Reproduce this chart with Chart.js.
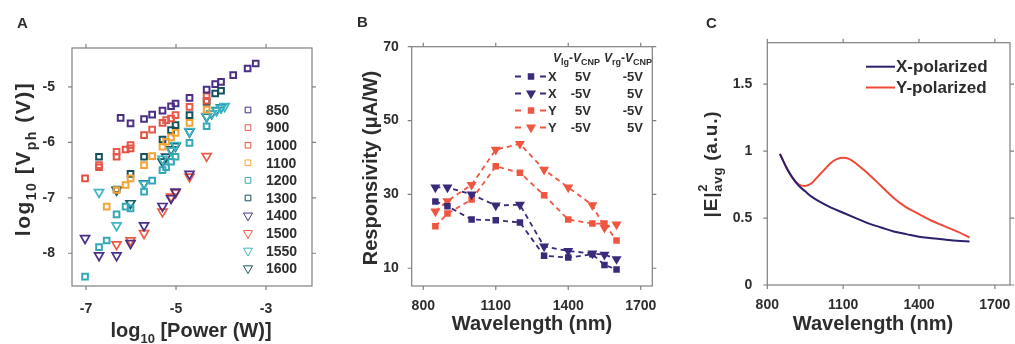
<!DOCTYPE html>
<html><head><meta charset="utf-8">
<script src="https://cdn.jsdelivr.net/npm/chart.js@4.4.1/dist/chart.umd.min.js"></script>
<style>
html,body{margin:0;padding:0;background:#fff;}
#wrap{position:relative;width:1015px;height:344px;overflow:hidden;}
canvas{position:absolute;top:0;}
</style></head>
<body><div id="wrap">
<canvas id="cA" width="340" height="344" style="left:0"></canvas>
<canvas id="cB" width="340" height="344" style="left:340px"></canvas>
<canvas id="cC" width="335" height="344" style="left:680px"></canvas>
</div>
<script>
// ---------- Panel A data: [log10 Power (W), log10 Vph (V)] ----------
const a850 = [[-6.23,-5.56],[-6.01,-5.66],[-5.71,-5.58],[-5.53,-5.50],[-5.30,-5.43],[-5.11,-5.35],[-5.01,-5.30],[-4.70,-5.20],[-4.32,-5.05],[-4.13,-4.95],[-4.00,-4.91],[-3.73,-4.79],[-3.41,-4.67],[-3.23,-4.58]];
const a900 = [[-6.71,-6.41],[-6.32,-6.17],[-6.01,-6.05],[-5.53,-5.77],[-5.22,-5.60],[-5.01,-5.51],[-4.70,-5.36],[-4.32,-5.17]];
const a1000 = [[-7.02,-6.65],[-6.71,-6.45],[-6.32,-6.26],[-6.12,-6.13],[-6.01,-6.11],[-5.71,-5.87],[-5.30,-5.65],[-5.11,-5.57],[-4.32,-5.25]];
const a1100 = [[-6.54,-7.16],[-6.32,-6.86],[-6.12,-6.77],[-6.01,-6.65],[-5.71,-6.41],[-5.53,-6.25],[-5.30,-6.08],[-5.22,-5.99],[-5.11,-5.91],[-5.01,-5.83],[-4.70,-5.65],[-4.32,-5.41]];
const a1200 = [[-7.02,-8.42],[-6.71,-7.89],[-6.54,-7.77],[-6.32,-7.30],[-6.12,-7.16],[-6.01,-7.19],[-5.71,-6.89],[-5.53,-6.69],[-5.30,-6.50],[-5.22,-6.45],[-5.11,-6.35],[-5.01,-6.26],[-4.70,-6.01],[-4.32,-5.71]];
const a1300 = [[-6.71,-6.26],[-6.32,-6.85],[-6.01,-6.57],[-5.71,-6.26],[-5.30,-5.95],[-5.11,-5.78],[-5.01,-5.69],[-4.70,-5.51],[-4.32,-5.27],[-4.13,-5.12],[-4.00,-5.07]];
const a1400 = [[-7.02,-7.73],[-6.71,-8.04],[-6.32,-8.04],[-6.01,-7.82],[-5.71,-7.50],[-5.30,-7.15],[-5.11,-7.01],[-5.01,-6.89],[-4.70,-6.57]];
const a1500 = [[-6.32,-7.84],[-6.01,-7.77],[-5.71,-7.64],[-5.30,-7.25],[-5.11,-6.98],[-5.01,-6.91],[-4.70,-6.62],[-4.32,-6.25]];
const a1550 = [[-6.71,-6.90],[-6.32,-7.50],[-5.71,-6.75],[-5.30,-6.30],[-5.11,-6.15],[-5.01,-6.05],[-4.70,-5.80],[-4.32,-5.53],[-4.20,-5.48],[-4.10,-5.43],[-4.00,-5.38],[-3.92,-5.35]];
const a1600 = [[-6.32,-6.86],[-6.01,-7.10],[-5.71,-6.74],[-5.30,-6.35],[-5.22,-6.26],[-5.11,-6.13],[-5.01,-6.07],[-4.70,-5.81],[-4.32,-5.54],[-4.21,-5.48],[-4.10,-5.42],[-4.00,-5.37]];
const aLabels = ['850','900','1000','1100','1200','1300','1400','1500','1550','1600'];
const aXTicks = [-7,-5,-3];
const aYTicks = [-8,-7,-6,-5];

// ---------- Panel B data ----------
const bWavelength = [850,900,1000,1100,1200,1300,1400,1500,1550,1600];
const bX_p5 = [28.1,26.8,23.2,23.0,22.4,13.4,12.9,13.8,10.9,9.7];
const bX_m5 = [31.9,31.9,30.0,27.0,27.2,15.9,14.7,14.0,13.7,12.5];
const bY_p5 = [21.4,24.8,28.6,37.6,35.9,29.8,23.2,22.1,22.1,17.5];
const bY_m5 = [25.4,28.2,32.6,42.1,43.7,36.7,31.9,27.1,21.0,21.9];
const bXTicks = [800,1100,1400,1700];
const bYTicks = [10,30,50,70];

// ---------- Panel C data ----------
const cWavelengthY = [850,875,900,925,950,975,1000,1025,1050,1075,1100,1125,1150,1175,1200,1250,1300,1350,1400,1450,1500,1550,1600];
const cYpol = [0.98,0.88,0.80,0.75,0.74,0.76,0.81,0.86,0.91,0.94,0.95,0.94,0.91,0.87,0.83,0.74,0.65,0.58,0.53,0.48,0.44,0.40,0.355];
const cWavelengthX = [850,875,900,925,950,975,1000,1050,1100,1150,1200,1250,1300,1350,1400,1450,1500,1550,1600];
const cXpol = [0.98,0.88,0.80,0.74,0.70,0.66,0.63,0.58,0.54,0.50,0.46,0.43,0.40,0.38,0.36,0.35,0.34,0.33,0.325];
const cXTicks = [800,1100,1400,1700];
const cYTicks = [0,0.5,1,1.5];

// ---------- styling ----------
const FAM = '"Liberation Sans", Arial, Helvetica, sans-serif';
const TXT = '#2d2d2d';
const FRAME = '#808080';
Chart.defaults.font.family = FAM;
Chart.defaults.font.weight = 'bold';
Chart.defaults.color = TXT;

function drawRich(ctx, parts, x, y, rot, align, spacing) {
  ctx.save();
  ctx.translate(x, y);
  ctx.rotate(rot || 0);
  ctx.textBaseline = 'alphabetic';
  ctx.textAlign = 'left';
  ctx.fillStyle = TXT;
  if (spacing) ctx.letterSpacing = spacing + 'px';
  const fontOf = p => (p.i ? 'italic ' : '') + 'bold ' + p.s + 'px ' + FAM;
  const widths = parts.map(p => {
    if (p.stack) {
      return Math.max(...p.stack.map(q => { ctx.font = fontOf(q); return ctx.measureText(q.t).width; }));
    }
    ctx.font = fontOf(p); return ctx.measureText(p.t).width;
  });
  const total = widths.reduce((a, b) => a + b, 0);
  let cx = align === 'left' ? 0 : (align === 'right' ? -total : -total / 2);
  parts.forEach((p, i) => {
    if (p.stack) {
      p.stack.forEach(q => { ctx.font = fontOf(q); ctx.fillText(q.t, cx + (q.dx || 0), q.dy || 0); });
    } else {
      ctx.font = fontOf(p); ctx.fillText(p.t, cx, p.dy || 0);
    }
    cx += widths[i];
  });
  ctx.restore();
}

function framePlugin(tl) {
  return {
    id: 'frame',
    afterDraw(chart) {
      const ctx = chart.ctx, a = chart.chartArea;
      const sx = chart.scales.x, sy = chart.scales.y;
      ctx.save();
      ctx.strokeStyle = FRAME;
      ctx.lineWidth = 1.2;
      ctx.strokeRect(a.left, a.top, a.right - a.left, a.bottom - a.top);
      ctx.beginPath();
      sx.ticks.forEach(t => {
        const px = sx.getPixelForValue(t.value);
        ctx.moveTo(px, a.bottom); ctx.lineTo(px, a.bottom + tl);
        ctx.moveTo(px, a.top); ctx.lineTo(px, a.top - tl);
      });
      sy.ticks.forEach(t => {
        const py = sy.getPixelForValue(t.value);
        ctx.moveTo(a.left, py); ctx.lineTo(a.left - tl, py);
        ctx.moveTo(a.right, py); ctx.lineTo(a.right + tl, py);
      });
      ctx.stroke();
      ctx.restore();
    }
  };
}

function axes(xr, yr, xt, yt, pads, sizes) {
  return {
    x: {
      type: 'linear', min: xr[0], max: xr[1],
      grid: { display: false }, border: { display: false },
      afterBuildTicks: s => { s.ticks = xt.map(v => ({ value: v })); },
      ticks: { font: { size: 14, weight: 'bold' }, color: TXT, padding: pads[0], maxRotation: 0, autoSkip: false,
               callback: v => String(v) },
      afterFit: s => { s.height = sizes[0]; s.paddingLeft = 0; s.paddingRight = 0; }
    },
    y: {
      type: 'linear', min: yr[0], max: yr[1],
      grid: { display: false }, border: { display: false },
      afterBuildTicks: s => { s.ticks = yt.map(v => ({ value: v })); },
      ticks: { font: { size: 14, weight: 'bold' }, color: TXT, padding: pads[1], autoSkip: false,
               callback: v => String(v) },
      afterFit: s => { s.width = sizes[1]; s.paddingTop = 0; s.paddingBottom = 0; }
    }
  };
}

// ---------- Panel A ----------
const aSeries = [a850, a900, a1000, a1100, a1200, a1300, a1400, a1500, a1550, a1600];
const aColors = ['#4a2f85', '#e8584d', '#e4503f', '#f7a235', '#33a9b8', '#13525c', '#4a2f85', '#ef5a45', '#3cb6c6', '#1c5a63'];
const aStyles = ['rect', 'rect', 'rect', 'rect', 'rect', 'rect', 'triangle', 'triangle', 'triangle', 'triangle'];

const aDatasets = aSeries.map((pts, i) => ({
  label: aLabels[i],
  data: pts.map(p => ({ x: p[0], y: p[1] })),
  pointStyle: aStyles[i],
  rotation: aStyles[i] === 'triangle' ? 180 : 0,
  radius: aStyles[i] === 'triangle' ? 5.2 : 4,
  borderWidth: aStyles[i] === 'triangle' ? 1.7 : 2,
  borderColor: aColors[i],
  backgroundColor: 'rgba(255,255,255,0)',
  showLine: false
}));

const aExtra = {
  id: 'aExtra',
  afterDraw(chart) {
    const ctx = chart.ctx;
    aLabels.forEach((lab, i) => {
      const y = 110 + i * 17.6;
      ctx.save();
      ctx.strokeStyle = aColors[i];
      ctx.fillStyle = 'rgba(255,255,255,0)';
      Chart.helpers.drawPoint(ctx, { pointStyle: aStyles[i], radius: aStyles[i] === 'triangle' ? 5.2 : 4,
        rotation: aStyles[i] === 'triangle' ? 180 : 0, borderWidth: aStyles[i] === 'triangle' ? 1.7 : 2 }, 248, y);
      ctx.restore();
      ctx.save();
      ctx.fillStyle = TXT; ctx.font = 'bold 14px ' + FAM; ctx.textBaseline = 'middle'; ctx.textAlign = 'left';
      ctx.fillText(lab, 266, y + 1);
      ctx.restore();
    });
    drawRich(ctx, [{ t: 'A', s: 15 }], 17, 28, 0, 'left');
    drawRich(ctx, [{ t: 'log', s: 20 }, { t: '10', s: 13, dy: 6 }, { t: ' [Power (W)]', s: 20 }], 191, 337, 0, 'center');
    drawRich(ctx, [{ t: 'log', s: 21 }, { t: '10', s: 14, dy: 6 }, { t: ' [', s: 21 }, { t: 'V', s: 21 }, { t: 'ph', s: 14, dy: 6 }, { t: ' (V)]', s: 21 }], 30, 159, -Math.PI / 2, 'center', 1.5);
  }
};

new Chart(document.getElementById('cA'), {
  type: 'scatter',
  data: { datasets: aDatasets },
  options: {
    responsive: false, animation: false,
    layout: { padding: { left: 0, top: 48, right: 28, bottom: 0 } },
    plugins: { legend: { display: false }, tooltip: { enabled: false } },
    scales: axes([-7.31, -1.98], [-8.59, -4.30], aXTicks, aYTicks, [7, 9], [58, 72])
  },
  plugins: [framePlugin(4), aExtra]
});

// ---------- Panel B ----------
const PURPLE = '#3b2a7a', RED = '#f0553f';
const bSeries = [
  { v: bX_p5, c: PURPLE, st: 'rect', lab: 'X', c2: '5V', c3: '-5V' },
  { v: bX_m5, c: PURPLE, st: 'triangle', lab: 'X', c2: '-5V', c3: '5V' },
  { v: bY_p5, c: RED, st: 'rect', lab: 'Y', c2: '5V', c3: '-5V' },
  { v: bY_m5, c: RED, st: 'triangle', lab: 'Y', c2: '-5V', c3: '5V' }
];
const bDatasets = bSeries.map(s => ({
  label: s.lab + ' ' + s.c2 + ' ' + s.c3,
  data: bWavelength.map((w, i) => ({ x: w, y: s.v[i] })),
  showLine: true,
  borderColor: s.c, backgroundColor: s.c,
  borderWidth: 1.8, borderDash: [5, 4],
  pointStyle: s.st, rotation: s.st === 'triangle' ? 180 : 0,
  pointRadius: s.st === 'triangle' ? 5.8 : 4.6,
  pointBorderWidth: 0,
  pointBackgroundColor: s.c
}));

const bExtra = {
  id: 'bExtra',
  afterDraw(chart) {
    const ctx = chart.ctx;
    const ox = 340;
    drawRich(ctx, [{ t: 'V', s: 12, i: true }, { t: 'lg', s: 9, dy: 3 }, { t: '-', s: 12 }, { t: 'V', s: 12, i: true }, { t: 'CNP', s: 9, dy: 3 }], 553 - ox, 62, 0, 'left');
    drawRich(ctx, [{ t: 'V', s: 12, i: true }, { t: 'rg', s: 9, dy: 3 }, { t: '-', s: 12 }, { t: 'V', s: 12, i: true }, { t: 'CNP', s: 9, dy: 3 }], 604 - ox, 62, 0, 'left');
    const rows = [76.5, 93.5, 110.5, 127.5];
    bSeries.forEach((s, i) => {
      const y = rows[i];
      ctx.save();
      ctx.strokeStyle = s.c; ctx.lineWidth = 1.8;
      ctx.beginPath();
      ctx.moveTo(515 - ox, y); ctx.lineTo(521 - ox, y);
      ctx.moveTo(540 - ox, y); ctx.lineTo(546 - ox, y);
      ctx.stroke();
      ctx.fillStyle = s.c;
      Chart.helpers.drawPoint(ctx, { pointStyle: s.st, radius: s.st === 'triangle' ? 5.8 : 4.6,
        rotation: s.st === 'triangle' ? 180 : 0, borderWidth: 0 }, 531 - ox, y);
      ctx.restore();
      ctx.save();
      ctx.fillStyle = TXT; ctx.font = 'bold 13px ' + FAM; ctx.textBaseline = 'middle';
      ctx.textAlign = 'left'; ctx.fillText(s.lab, 548 - ox, y + 1);
      ctx.textAlign = 'right'; ctx.fillText(s.c2, 591 - ox, y + 1);
      ctx.fillText(s.c3, 643 - ox, y + 1);
      ctx.restore();
    });
    drawRich(ctx, [{ t: 'B', s: 15 }], 357 - ox, 27, 0, 'left');
    drawRich(ctx, [{ t: 'Wavelength (nm)', s: 20 }], 532 - ox, 330, 0, 'center');
    drawRich(ctx, [{ t: 'Responsivity (\u03bcA/W)', s: 20 }], 377 - ox, 168, -Math.PI / 2, 'center');
  }
};

new Chart(document.getElementById('cB'), {
  type: 'scatter',
  data: { datasets: bDatasets },
  options: {
    responsive: false, animation: false,
    layout: { padding: { left: 0, top: 46.7, right: 27.7, bottom: 0 } },
    plugins: { legend: { display: false }, tooltip: { enabled: false } },
    scales: axes([752, 1748], [5.2, 70], bXTicks, bYTicks, [4, 5], [58, 71.7])
  },
  plugins: [framePlugin(4), bExtra]
});

// ---------- Panel C ----------
const cExtra = {
  id: 'cExtra',
  afterDraw(chart) {
    const ctx = chart.ctx;
    const ox = 680;
    const rows = [[66.7, '#2b1f6e', 'X-polarized'], [87.5, '#ef4a37', 'Y-polarized']];
    rows.forEach(r => {
      ctx.save();
      ctx.strokeStyle = r[1]; ctx.lineWidth = 2;
      ctx.beginPath(); ctx.moveTo(866 - ox, r[0]); ctx.lineTo(895 - ox, r[0]); ctx.stroke();
      ctx.fillStyle = TXT; ctx.font = 'bold 17px ' + FAM; ctx.textBaseline = 'middle'; ctx.textAlign = 'left';
      ctx.fillText(r[2], 896 - ox, r[0] + 1);
      ctx.restore();
    });
    drawRich(ctx, [{ t: 'C', s: 15 }], 706 - ox, 28, 0, 'left');
    drawRich(ctx, [{ t: 'Wavelength (nm)', s: 20 }], 873 - ox, 330, 0, 'center');
    drawRich(ctx, [{ t: '|E|', s: 19 },
      { stack: [{ t: '2', s: 13, dy: -10 }, { t: 'avg', s: 13, dy: 5 }] },
      { t: ' (a.u.)', s: 19 }], 717 - ox, 164, -Math.PI / 2, 'center', 0.8);
  }
};

new Chart(document.getElementById('cC'), {
  type: 'scatter',
  data: {
    datasets: [
      { label: 'X-polarized', data: cWavelengthX.map((w, i) => ({ x: w, y: cXpol[i] })), showLine: true,
        borderColor: '#2b1f6e', borderWidth: 2, pointRadius: 0, cubicInterpolationMode: 'monotone' },
      { label: 'Y-polarized', data: cWavelengthY.map((w, i) => ({ x: w, y: cYpol[i] })), showLine: true,
        borderColor: '#ef4a37', borderWidth: 2, pointRadius: 0, cubicInterpolationMode: 'monotone' }
    ]
  },
  options: {
    responsive: false, animation: false,
    layout: { padding: { left: 0, top: 42.7, right: 5, bottom: 0 } },
    plugins: { legend: { display: false }, tooltip: { enabled: false } },
    scales: axes([800, 1760], [0, 1.81], cXTicks, cYTicks, [4, 7], [59, 87.3])
  },
  plugins: [framePlugin(4), cExtra]
});
</script>
</body></html>
